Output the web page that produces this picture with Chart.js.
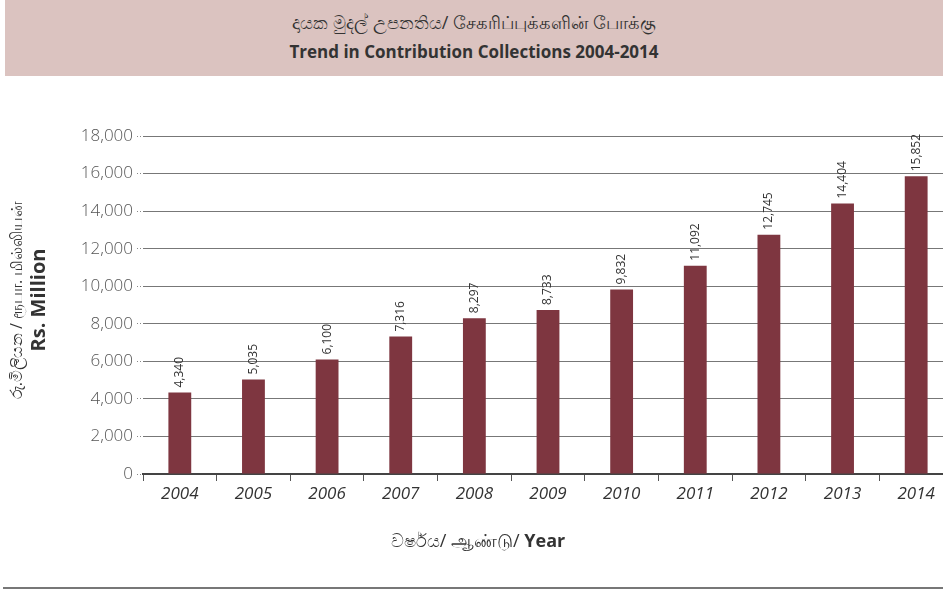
<!DOCTYPE html>
<html><head><meta charset="utf-8">
<script src="https://cdn.jsdelivr.net/npm/chart.js@4"></script>
<style>
html,body{margin:0;padding:0;width:943px;height:590px;overflow:hidden;background:#fff;font-family:"Open Sans",sans-serif;}
#titlebox{position:absolute;left:5px;top:0;width:938px;height:76px;background:#dbc3c0;text-align:center;color:#333;}
#t1{position:absolute;top:9px;left:0;right:0;font-size:18px;line-height:26px;}
#t2{position:absolute;top:40px;left:0;right:0;font-size:17px;font-weight:bold;line-height:24px;}
#bottomline{position:absolute;left:3px;top:587px;width:940px;height:2px;background:#777;}
#c{position:absolute;left:0;top:0;}
</style></head>
<body>
<div id="titlebox"><div id="t1">දායක මුදල් උපනතිය/ சேகரிப்புக்களின் போக்கு</div><div id="t2">Trend in Contribution Collections 2004-2014</div></div>
<canvas id="c" width="960" height="590"></canvas>
<div id="bottomline"></div>
<script>
const years = ["2004","2005","2006","2007","2008","2009","2010","2011","2012","2013","2014"];
const contributions = [4340,5035,6100,7316,8297,8733,9832,11092,12745,14404,15852];
const yTitleLocal = "රු.මිලියන / ரூபா. மில்லியன்";
const yTitleEn = "Rs. Million";
const xTitleLocal = "වර්ෂය/ ஆண்டு/ ";
const xTitleEn = "Year";

const labelPlugin = {
  id:'labels',
  afterDatasetsDraw(chart){
    const ctx = chart.ctx;
    const meta = chart.getDatasetMeta(0);
    ctx.save();
    ctx.fillStyle = '#333';
    ctx.font = '12px "Open Sans"';
    ctx.textAlign = 'left';
    ctx.textBaseline = 'middle';
    meta.data.forEach((bar,i)=>{
      ctx.save();
      ctx.translate(bar.x, bar.y - 5);
      ctx.rotate(-Math.PI/2);
      ctx.fillText(contributions[i].toLocaleString('en-US'), 0, 0);
      ctx.restore();
    });
    ctx.restore();
  },
  afterDraw(chart){
    const ctx = chart.ctx;
    ctx.save();
    ctx.translate(0, 300);
    ctx.rotate(-Math.PI/2);
    ctx.textAlign = 'center';
    ctx.textBaseline = 'middle';
    ctx.fillStyle = '#333';
    ctx.font = '16px "Open Sans"';
    ctx.fillText(yTitleLocal, 0, 17);
    ctx.font = 'bold 20px "Open Sans"';
    ctx.fillText(yTitleEn, 0, 39);
    ctx.restore();
    ctx.save();
    ctx.fillStyle = '#333';
    ctx.textBaseline = 'middle';
    ctx.font = '18px "Open Sans"';
    const w1 = ctx.measureText(xTitleLocal).width;
    ctx.font = 'bold 18px "Open Sans"';
    const w2 = ctx.measureText(xTitleEn).width;
    let x0 = 478 - (w1+w2)/2;
    ctx.font = '18px "Open Sans"';
    ctx.textAlign = 'left';
    ctx.fillText(xTitleLocal, x0, 542);
    ctx.font = 'bold 18px "Open Sans"';
    ctx.fillText(xTitleEn, x0 + w1, 542);
    ctx.restore();
  }
};

new Chart(document.getElementById('c'), {
  type:'bar',
  data:{labels:years, datasets:[{data:contributions, backgroundColor:'#7e3640', barPercentage:0.31, categoryPercentage:1}]},
  options:{
    responsive:false, animation:false,
    layout:{padding:{top:136,right:7,bottom:76,left:0}},
    plugins:{legend:{display:false}, tooltip:{enabled:false}},
    scales:{
      x:{
        afterFit(s){ s.height = 40; },
        grid:{offset:true, drawOnChartArea:false, drawTicks:true, tickLength:7, color:'#555', lineWidth:1},
        border:{display:true, color:'#444', width:2},
        ticks:{color:'#333', font:{family:'"Open Sans"', size:17, style:'italic'}, padding:3}
      },
      y:{
        min:0, max:18000,
        afterFit(s){ s.width = 143; },
        grid:{color:'#777', lineWidth:1, borderDash:[1,2], tickBorderDash:[1,2], tickLength:6, tickColor:'#888'},
        border:{display:false},
        ticks:{stepSize:2000, color:'#555', padding:4, font:{family:'"Open Sans"', size:17, weight:'300'},
          callback:v=>v.toLocaleString('en-US')}
      }
    }
  },
  plugins:[labelPlugin]
});
</script>
</body></html>
